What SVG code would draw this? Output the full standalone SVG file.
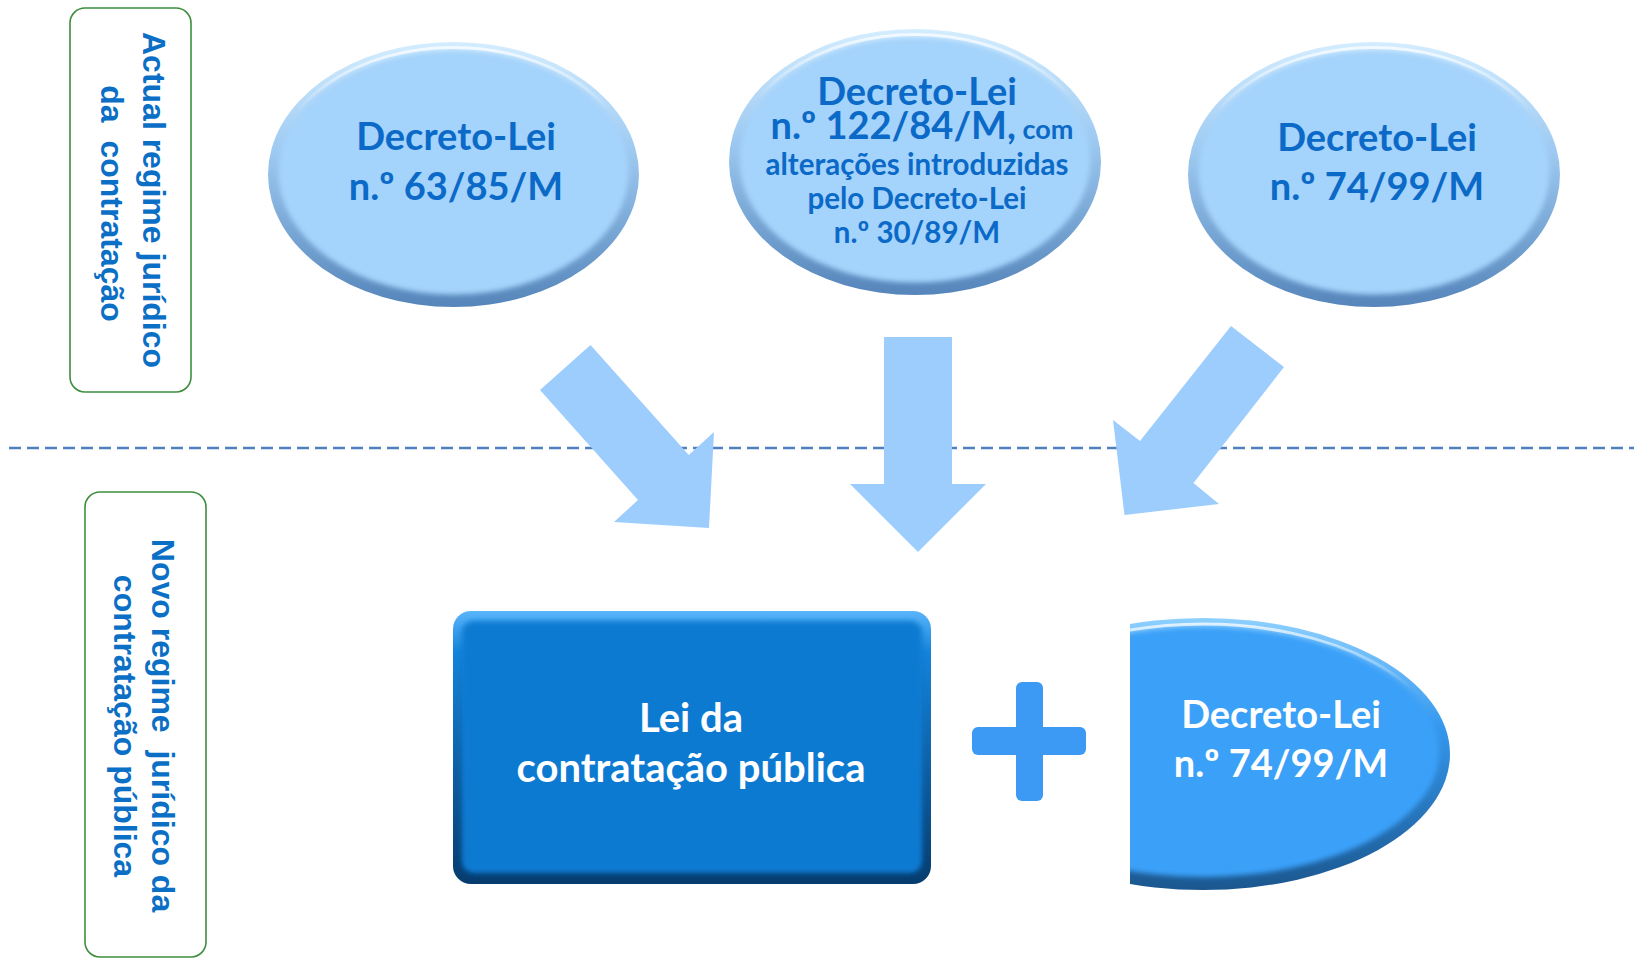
<svg xmlns="http://www.w3.org/2000/svg" width="1634" height="958" viewBox="0 0 1634 958">
<style>
.lbl{font-family:"Liberation Sans",Arial,sans-serif;font-weight:bold;fill:#0B6FC6;font-size:32px;text-anchor:middle}
.t{font-family:Lato,"Open Sans",sans-serif;font-weight:bold;text-anchor:middle;font-size:38px}
.t.s,.s{font-size:29.5px}
.t.b{font-size:40px}
.dk{fill:#0B69C7}
.wh{fill:#FFFFFF}
.arrow{fill:#9DCDFD}
.frame{fill:#FFFFFF;stroke:#3E8E3E;stroke-width:1.6}
</style>
<defs>
<linearGradient id="rimL" x1="0" y1="0" x2="0" y2="1">
<stop offset="0" stop-color="#D4EDFF"/><stop offset="0.4" stop-color="#9FCBF2"/><stop offset="1" stop-color="#5585BA"/>
</linearGradient>
<linearGradient id="rimD" x1="0" y1="0" x2="0" y2="1">
<stop offset="0" stop-color="#8ED0FF"/><stop offset="0.4" stop-color="#3598EE"/><stop offset="1" stop-color="#1B578F"/>
</linearGradient>
<linearGradient id="rimR" x1="0" y1="0" x2="0" y2="1">
<stop offset="0" stop-color="#5AB5FB"/><stop offset="0.15" stop-color="#1583DA"/><stop offset="1" stop-color="#063C6E"/>
</linearGradient>
<linearGradient id="hl" x1="0" y1="0" x2="0" y2="1">
<stop offset="0" stop-color="#FFFFFF" stop-opacity="0.75"/><stop offset="0.25" stop-color="#FFFFFF" stop-opacity="0"/>
</linearGradient>
<filter id="soft" x="-5%" y="-5%" width="110%" height="110%"><feGaussianBlur stdDeviation="2.5"/></filter>
<clipPath id="halfclip"><rect x="1130" y="580" width="400" height="340"/></clipPath>
</defs>
<rect width="1634" height="958" fill="#FFFFFF"/>

<g id="frame-actual">
<rect class="frame" x="70" y="8" width="121" height="384" rx="15"/>
<text class="lbl" transform="translate(143,200) rotate(90)">Actual regime jurídico</text>
<text class="lbl" transform="translate(101,203.5) rotate(90)" xml:space="preserve">da  contratação</text>
</g>

<g id="frame-novo">
<rect class="frame" x="85" y="492" width="121" height="465" rx="15"/>
<text class="lbl" transform="translate(152,725.5) rotate(90)" xml:space="preserve">Novo regime  jurídico da</text>
<text class="lbl" transform="translate(114,726) rotate(90)">contratação pública</text>
</g>

<g id="connectors">
<line x1="9" y1="448" x2="1634" y2="448" stroke="#4F7FBE" stroke-width="2.5" stroke-dasharray="12 6"/>
<polygon class="arrow" points="540,390 590.5,345 688.8,455 714,432 709,528 614,522 638,500"/>
<polygon class="arrow" points="884,337 952,337 952,484 986,484 918,552 850,484 884,484"/>
<polygon class="arrow" points="1231,326 1284,367 1193.5,483 1219,504 1124.5,515 1113,420 1140,441"/>
</g>

<g id="node-dl63">
<ellipse cx="453.5" cy="174.5" rx="185.5" ry="132.5" fill="url(#rimL)"/>
<ellipse cx="453.5" cy="172.5" rx="175" ry="122" fill="#A4D3FB" filter="url(#soft)"/>
<ellipse cx="453.5" cy="174.5" rx="180" ry="127" fill="none" stroke="url(#hl)" stroke-width="3"/>
<text class="t dk" x="456" y="150">Decreto-Lei</text>
<text class="t dk" x="456" y="200">n.º 63/85/M</text>
</g>

<g id="node-dl122">
<ellipse cx="915" cy="162" rx="186" ry="133" fill="url(#rimL)"/>
<ellipse cx="915" cy="160" rx="175.5" ry="122.5" fill="#A4D3FB" filter="url(#soft)"/>
<ellipse cx="915" cy="162" rx="180.5" ry="127.5" fill="none" stroke="url(#hl)" stroke-width="3"/>
<text class="t dk" x="917" y="105">Decreto-Lei</text>
<text class="t dk" x="922" y="139">n.º 122/84/M,<tspan style="font-size:27px"> com</tspan></text>
<text class="t s dk" x="917" y="175">alterações introduzidas</text>
<text class="t s dk" x="917" y="209">pelo Decreto-Lei</text>
<text class="t s dk" x="917" y="243">n.º 30/89/M</text>
</g>

<g id="node-dl74-top">
<ellipse cx="1374" cy="174.5" rx="186" ry="132.5" fill="url(#rimL)"/>
<ellipse cx="1374" cy="172.5" rx="175.5" ry="122" fill="#A4D3FB" filter="url(#soft)"/>
<ellipse cx="1374" cy="174.5" rx="180.5" ry="127" fill="none" stroke="url(#hl)" stroke-width="3"/>
<text class="t dk" x="1377" y="151">Decreto-Lei</text>
<text class="t dk" x="1377" y="200">n.º 74/99/M</text>
</g>

<g id="node-lei">
<rect x="453" y="611" width="478" height="273" rx="18" fill="url(#rimR)"/>
<rect x="462" y="621" width="460" height="252" rx="12" fill="#077AD2" filter="url(#soft)"/>
<text class="t b wh" x="691" y="732">Lei da</text>
<text class="t b wh" x="691" y="782">contratação pública</text>
</g>

<g id="node-plus">
<rect x="972" y="727" width="114" height="28" rx="6" fill="#3C9AF4"/>
<rect x="1016" y="682" width="27" height="119" rx="6" fill="#3C9AF4"/>
</g>

<g id="node-dl74-bottom">
<g clip-path="url(#halfclip)">
<ellipse cx="1203" cy="754" rx="247" ry="136" fill="url(#rimD)"/>
<ellipse cx="1203" cy="752" rx="236" ry="125" fill="#3AA0F8" filter="url(#soft)"/>
<ellipse cx="1203" cy="754" rx="241" ry="130" fill="none" stroke="url(#hl)" stroke-width="3"/>
</g>
<text class="t wh" x="1281" y="728">Decreto-Lei</text>
<text class="t wh" x="1281" y="777">n.º 74/99/M</text>
</g>
</svg>
